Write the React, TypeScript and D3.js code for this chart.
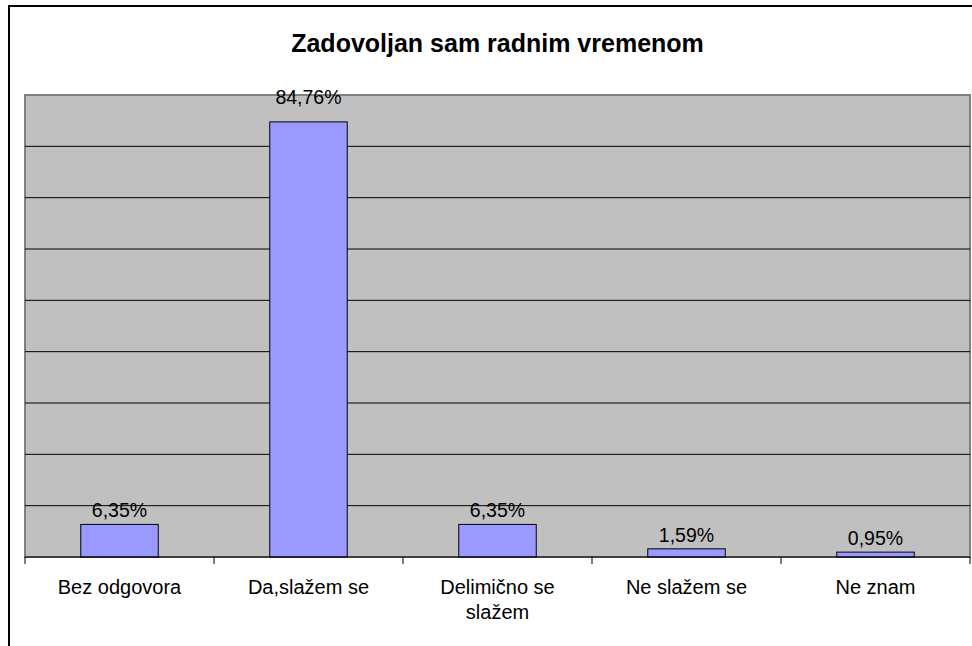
import React from 'react'
import * as d3 from 'd3'

const title = 'Zadovoljan sam radnim vremenom'
const categories = ['Bez odgovora', 'Da,slažem se', 'Delimično se slažem', 'Ne slažem se', 'Ne znam']
// category labels as they wrap in the original
const categoryLines = [['Bez odgovora'], ['Da,slažem se'], ['Delimično se', 'slažem'], ['Ne slažem se'], ['Ne znam']]
const values = [6.35, 84.76, 6.35, 1.59, 0.95]
const gridTicks = [0, 10, 20, 30, 40, 50, 60, 70, 80, 90]

const width = 972
const height = 646
const font = 'Arial, "Liberation Sans", sans-serif'

const App = () => {
  const plot = { left: 25, right: 970, top: 95, bottom: 557 }

  const x = d3.scaleBand<string>()
    .domain(categories)
    .range([plot.left, plot.right])
    .padding(0)

  const y = d3.scaleLinear()
    .domain([0, 90])
    .range([plot.bottom, plot.top])

  const barW = x.bandwidth() * 0.41
  const fmt = (v: number) => v.toFixed(2).replace('.', ',') + '%'

  return (
    <svg width={width} height={height}
      style={{ position: 'absolute', left: 0, top: 0, fontFamily: font }}>
      <rect x={0} y={0} width={width} height={height} fill="#fff" />
      {/* chart border, runs off the right and bottom edges */}
      <rect x={9} y={6} width={1000} height={700} fill="none" stroke="#000" strokeWidth={2} />

      <text x={(plot.left + plot.right) / 2} y={52} textAnchor="middle"
        fontSize={25} fontWeight="bold">{title}</text>

      <rect x={plot.left} y={plot.top} width={plot.right - plot.left} height={plot.bottom - plot.top}
        fill="#c0c0c0" stroke="#808080" strokeWidth={2} />

      {gridTicks.filter(t => t > 0 && t < 90).map(t => (
        <line key={t} x1={plot.left} x2={plot.right} y1={y(t)} y2={y(t)} stroke="#000" strokeWidth={1} />
      ))}

      {values.map((v, i) => {
        const cx = x(categories[i])! + x.bandwidth() / 2
        return (
          <rect key={i} x={cx - barW / 2} y={y(v)} width={barW} height={y(0) - y(v)}
            fill="#9999ff" stroke="#000" strokeWidth={1} />
        )
      })}

      {/* x axis */}
      <line x1={plot.left} x2={plot.right} y1={y(0)} y2={y(0)} stroke="#000" strokeWidth={1} />
      {[...categories.map(c => x(c)!), plot.right].map((tx, i) => (
        <line key={i} x1={tx} x2={tx} y1={y(0)} y2={y(0) + 7} stroke="#000" strokeWidth={1} />
      ))}

      {values.map((v, i) => {
        const cx = x(categories[i])! + x.bandwidth() / 2
        // labels near the top get pushed up over the plot edge
        const ly = y(v) - 7 > y(90) + 30 ? y(v) - 7 : y(90) + 9
        return (
          <text key={i} x={cx} y={ly} textAnchor="middle" fontSize={19.5}>{fmt(v)}</text>
        )
      })}

      {categoryLines.map((lines, i) => {
        const cx = x(categories[i])! + x.bandwidth() / 2
        return (
          <text key={i} x={cx} y={y(0) + 37} textAnchor="middle" fontSize={20}>
            {lines.map((l, j) => (
              <tspan key={j} x={cx} dy={j === 0 ? 0 : 25}>{l}</tspan>
            ))}
          </text>
        )
      })}
    </svg>
  )
}

export default App
